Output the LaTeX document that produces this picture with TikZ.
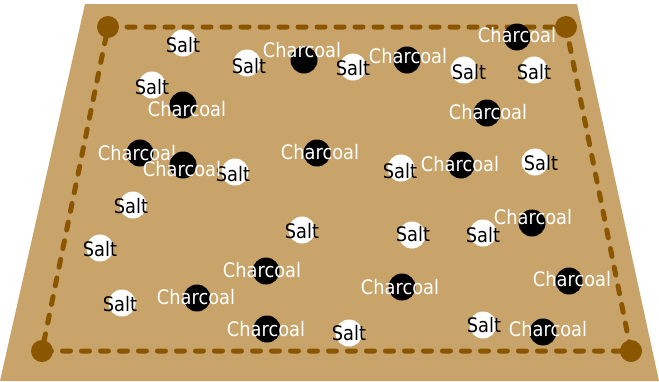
\documentclass[tikz,border=0pt]{standalone}
\usepackage{fontspec}
\setmainfont{DejaVu Sans}[FakeStretch=0.89]
\usepackage{xcolor}
\usetikzlibrary{positioning}

\definecolor{tray}{RGB}{200,164,106}
\definecolor{rim}{RGB}{139,86,0}

\begin{document}
\begin{tikzpicture}[
    x=1pt, y=-1pt,
    every node/.style={font=\fontsize{20}{22}\selectfont},
    salt/.style={circle, fill=white, minimum size=27pt, inner sep=0pt},
    coal/.style={circle, fill=black, minimum size=27pt, inner sep=0pt},
    saltlbl/.style={text=black, inner sep=0pt},
    coallbl/.style={text=white, inner sep=0pt},
    border/.style={draw=rim, line width=5pt, dash pattern=on 8pt off 11pt, line cap=round},
    corner/.style={circle, fill=rim, minimum size=22pt, inner sep=0pt}
]
\useasboundingbox (0,0) rectangle (659,381);

% tray
\fill[tray] (85,4) -- (577,4) -- (659,381) -- (0,381) -- cycle;

% dashed rim with corner posts
\coordinate (tl) at (108,27);
\coordinate (tr) at (566,27);
\coordinate (br) at (631,351);
\coordinate (bl) at (42,351);
\draw[border] (tl) -- (tr) -- (br) -- (bl) -- cycle;
\node[corner] (ptl) at (tl) {};
\node[corner] (ptr) at (tr) {};
\node[corner] (pbr) at (br) {};
\node[corner] (pbl) at (bl) {};

% salt grains
\node[salt] (s1) at (183,43) {};   \node[saltlbl] (ls1) at (183,45) {Salt};
\node[salt] (s2) at (247,63) {};   \node[saltlbl] (ls2) at (249,66) {Salt};
\node[salt] (s3) at (152,85) {};   \node[saltlbl] (ls3) at (152,87) {Salt};
\node[salt] (s4) at (235,172) {};  \node[saltlbl] (ls4) at (233,174) {Salt};
\node[salt] (s5) at (353,67) {};   \node[saltlbl] (ls5) at (353,68) {Salt};
\node[salt] (s6) at (464,70) {};   \node[saltlbl] (ls6) at (469,72) {Salt};
\node[salt] (s7) at (534,70) {};   \node[saltlbl] (ls7) at (534,72) {Salt};
\node[salt] (s8) at (401,168) {};  \node[saltlbl] (ls8) at (400,171) {Salt};
\node[salt] (s9) at (535,162) {};  \node[saltlbl] (ls9) at (541,163) {Salt};
\node[salt] (s10) at (133,205) {}; \node[saltlbl] (ls10) at (131,206) {Salt};
\node[salt] (s11) at (100,248) {}; \node[saltlbl] (ls11) at (100,249) {Salt};
\node[salt] (s12) at (302,230) {}; \node[saltlbl] (ls12) at (302,231) {Salt};
\node[salt] (s13) at (122,303) {}; \node[saltlbl] (ls13) at (120,304) {Salt};
\node[salt] (s14) at (412,235) {}; \node[saltlbl] (ls14) at (413,234) {Salt};
\node[salt] (s15) at (483,233) {}; \node[saltlbl] (ls15) at (483,235) {Salt};
\node[salt] (s16) at (349,333) {}; \node[saltlbl] (ls16) at (349,333) {Salt};
\node[salt] (s17) at (483,325) {}; \node[saltlbl] (ls17) at (484,325) {Salt};

% charcoal grains
\node[coal] (c1) at (304,60) {};   \node[coallbl] (lc1) at (302,50) {Charcoal};
\node[coal] (c2) at (183,105) {};  \node[coallbl] (lc2) at (187,109) {Charcoal};
\node[coal] (c3) at (140,153) {};  \node[coallbl] (lc3) at (137,153) {Charcoal};
\node[coal] (c4) at (183,165) {};  \node[coallbl] (lc4) at (182,169) {Charcoal};
\node[coal] (c5) at (317,153) {};  \node[coallbl] (lc5) at (320,152) {Charcoal};
\node[coal] (c6) at (407,60) {};   \node[coallbl] (lc6) at (408,56) {Charcoal};
\node[coal] (c7) at (517,37) {};   \node[coallbl] (lc7) at (517,35) {Charcoal};
\node[coal] (c8) at (487,113) {};  \node[coallbl] (lc8) at (488,112) {Charcoal};
\node[coal] (c9) at (461,165) {};  \node[coallbl] (lc9) at (460,164) {Charcoal};
\node[coal] (c10) at (266,271) {}; \node[coallbl] (lc10) at (262,270) {Charcoal};
\node[coal] (c11) at (197,298) {}; \node[coallbl] (lc11) at (196,297) {Charcoal};
\node[coal] (c12) at (267,329) {}; \node[coallbl] (lc12) at (266,329) {Charcoal};
\node[coal] (c13) at (532,223) {}; \node[coallbl] (lc13) at (533,217) {Charcoal};
\node[coal] (c14) at (402,287) {}; \node[coallbl] (lc14) at (400,287) {Charcoal};
\node[coal] (c15) at (569,281) {}; \node[coallbl] (lc15) at (572,279) {Charcoal};
\node[coal] (c16) at (543,332) {}; \node[coallbl] (lc16) at (548,329) {Charcoal};

\end{tikzpicture}
\end{document}
